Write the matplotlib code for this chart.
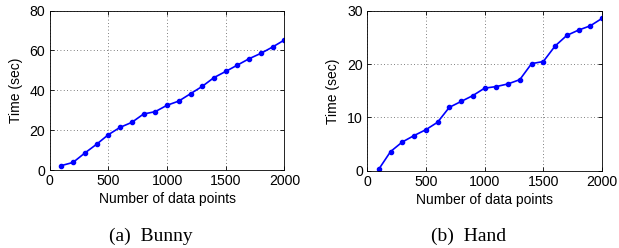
import matplotlib
matplotlib.use("Agg")
import matplotlib.pyplot as plt

# Data
n_points = [100, 200, 300, 400, 500, 600, 700, 800, 900, 1000,
            1100, 1200, 1300, 1400, 1500, 1600, 1700, 1800, 1900, 2000]
bunny_time = [2.2, 3.8, 8.5, 12.9, 17.7, 21.4, 23.9, 28.1, 29.3, 32.5,
              34.6, 38.3, 42.0, 46.4, 49.5, 52.7, 55.9, 58.6, 61.8, 65.3]
hand_time = [0.3, 3.6, 5.4, 6.6, 7.7, 9.1, 11.9, 13.0, 14.1, 15.5,
             15.8, 16.3, 17.1, 20.1, 20.5, 23.4, 25.4, 26.4, 27.2, 28.6]
x_ticks = [0, 500, 1000, 1500, 2000]
bunny_yticks = [0, 20, 40, 60, 80]
hand_yticks = [0, 10, 20, 30]
captions = ["(a)  Bunny", "(b)  Hand"]

plt.rcParams["font.family"] = "Liberation Sans"

fig = plt.figure(figsize=(6.19, 2.48), dpi=100)
ax1 = fig.add_axes([0.080, 0.3145, 0.3796, 0.6425])
ax2 = fig.add_axes([0.593, 0.3115, 0.3796, 0.6445])


def style_axis(ax, y, yticks):
    ax.plot(n_points, y, "-o", color="#0000ff", lw=1.2, ms=3.0)
    ax.set_xlim(0, 2000)
    ax.set_ylim(yticks[0], yticks[-1])
    ax.set_xticks(x_ticks)
    ax.set_yticks(yticks)
    ax.grid(True, linestyle=(0, (1, 3)), color="#555555", lw=0.6)
    ax.tick_params(direction="in", top=True, right=True, labelsize=10.2,
                   length=3, width=0.6, pad=3)
    for s in ax.spines.values():
        s.set_linewidth(0.6)
    ax.set_xlabel("Number of data points", fontsize=10, labelpad=3)
    ax.set_ylabel("Time (sec)", fontsize=10, labelpad=5)


style_axis(ax1, bunny_time, bunny_yticks)
style_axis(ax2, hand_time, hand_yticks)

fig.text(0.243, 0.048, captions[0], ha="center", va="center",
         family="Liberation Serif", fontsize=14)
fig.text(0.757, 0.048, captions[1], ha="center", va="center",
         family="Liberation Serif", fontsize=14)

fig.savefig("out.png", dpi=100)
